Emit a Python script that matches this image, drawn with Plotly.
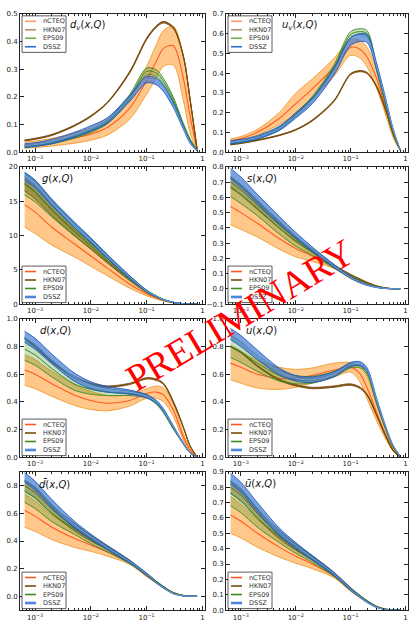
import plotly.graph_objects as go

# ---------------- data ----------------
X = [0.00065, 0.001, 0.002, 0.005, 0.01, 0.02, 0.05, 0.1, 0.15, 0.2, 0.3, 0.45, 0.6, 0.8]

MODELS = ["nCTEQ", "HKN07", "EPS09", "DSSZ"]

# d_v(x,Q)
DV_NCTEQ = [0.025, 0.028, 0.036, 0.05, 0.065, 0.09, 0.16, 0.26, 0.33, 0.375, 0.385, 0.27, 0.13, 0.008]
DV_NCTEQ_ERR = [0.011, 0.012, 0.014, 0.018, 0.022, 0.028, 0.04, 0.05, 0.06, 0.065, 0.07, 0.08, 0.06, 0.004]
DV_HKN07 = [0.042, 0.048, 0.062, 0.095, 0.13, 0.18, 0.29, 0.41, 0.455, 0.47, 0.45, 0.35, 0.19, 0.01]
DV_HKN07_ERR = [0.002, 0.002, 0.002, 0.002, 0.002, 0.002, 0.003, 0.003, 0.003, 0.003, 0.003, 0.003, 0.002, 0.001]
DV_EPS09 = [0.021, 0.024, 0.034, 0.055, 0.077, 0.11, 0.2, 0.292, 0.285, 0.255, 0.19, 0.1, 0.045, 0.005]
DV_EPS09_ERR = [0.003, 0.003, 0.004, 0.005, 0.006, 0.007, 0.009, 0.012, 0.012, 0.011, 0.009, 0.006, 0.003, 0.001]
DV_DSSZ = [0.023, 0.027, 0.038, 0.062, 0.085, 0.115, 0.195, 0.262, 0.255, 0.23, 0.17, 0.09, 0.035, 0.004]
DV_DSSZ_ERR = [0.007, 0.007, 0.008, 0.009, 0.01, 0.01, 0.011, 0.012, 0.012, 0.011, 0.009, 0.006, 0.004, 0.001]

# u_v(x,Q)
UV_NCTEQ = [0.057, 0.068, 0.1, 0.17, 0.245, 0.32, 0.43, 0.53, 0.52, 0.48, 0.37, 0.21, 0.085, 0.01]
UV_NCTEQ_ERR = [0.01, 0.011, 0.015, 0.03, 0.053, 0.05, 0.045, 0.04, 0.045, 0.05, 0.05, 0.035, 0.015, 0.002]
UV_HKN07 = [0.038, 0.045, 0.06, 0.085, 0.113, 0.16, 0.26, 0.395, 0.41, 0.4, 0.33, 0.2, 0.09, 0.01]
UV_HKN07_ERR = [0.002, 0.002, 0.002, 0.002, 0.002, 0.003, 0.003, 0.003, 0.003, 0.003, 0.003, 0.003, 0.002, 0.001]
UV_EPS09 = [0.045, 0.052, 0.072, 0.12, 0.19, 0.27, 0.43, 0.595, 0.61, 0.6, 0.42, 0.23, 0.1, 0.01]
UV_EPS09_ERR = [0.004, 0.004, 0.005, 0.007, 0.009, 0.011, 0.013, 0.015, 0.015, 0.015, 0.012, 0.008, 0.004, 0.001]
UV_DSSZ = [0.05, 0.056, 0.074, 0.12, 0.185, 0.26, 0.41, 0.56, 0.58, 0.575, 0.43, 0.245, 0.11, 0.012]
UV_DSSZ_ERR = [0.008, 0.008, 0.009, 0.011, 0.013, 0.015, 0.018, 0.02, 0.02, 0.02, 0.016, 0.01, 0.005, 0.001]

# g(x,Q)
G_NCTEQ = [14.5, 13.4, 11.2, 8.8, 7.0, 5.2, 2.9, 1.5, 0.9, 0.55, 0.22, 0.05, 0.01, 0.0]
G_NCTEQ_ERR = [3.3, 3.1, 2.6, 1.9, 1.5, 1.1, 0.6, 0.3, 0.18, 0.1, 0.05, 0.02, 0.005, 0.0]
G_HKN07 = [17.5, 16.3, 13.7, 10.6, 8.5, 6.3, 3.6, 1.8, 1.05, 0.6, 0.22, 0.04, 0.01, 0.0]
G_HKN07_ERR = [1.0, 0.95, 0.8, 0.6, 0.5, 0.35, 0.2, 0.1, 0.06, 0.04, 0.02, 0.01, 0.0, 0.0]
G_EPS09 = [17.5, 16.4, 13.9, 10.9, 8.8, 6.6, 3.8, 1.9, 1.1, 0.65, 0.25, 0.05, 0.01, 0.0]
G_EPS09_ERR = [1.6, 1.5, 1.2, 0.9, 0.7, 0.5, 0.3, 0.15, 0.1, 0.06, 0.03, 0.01, 0.0, 0.0]
G_DSSZ = [18.6, 17.5, 14.8, 11.6, 9.3, 6.9, 3.9, 1.9, 1.1, 0.65, 0.25, 0.05, 0.01, 0.0]
G_DSSZ_ERR = [0.6, 0.6, 0.5, 0.4, 0.35, 0.3, 0.2, 0.1, 0.06, 0.04, 0.02, 0.01, 0.0, 0.0]

# s(x,Q)
S_NCTEQ = [0.54, 0.5, 0.43, 0.33, 0.265, 0.215, 0.145, 0.075, 0.045, 0.028, 0.012, 0.003, 0.001, 0.0]
S_NCTEQ_ERR = [0.12, 0.11, 0.09, 0.07, 0.055, 0.035, 0.012, 0.008, 0.006, 0.004, 0.002, 0.001, 0.0, 0.0]
S_HKN07 = [0.7, 0.65, 0.55, 0.42, 0.33, 0.25, 0.15, 0.09, 0.06, 0.04, 0.018, 0.005, 0.001, 0.0]
S_HKN07_ERR = [0.035, 0.033, 0.028, 0.022, 0.017, 0.012, 0.008, 0.006, 0.005, 0.004, 0.002, 0.001, 0.0, 0.0]
S_EPS09 = [0.67, 0.62, 0.53, 0.4, 0.31, 0.24, 0.145, 0.08, 0.048, 0.03, 0.012, 0.003, 0.001, 0.0]
S_EPS09_ERR = [0.065, 0.06, 0.05, 0.04, 0.03, 0.02, 0.01, 0.006, 0.004, 0.003, 0.002, 0.001, 0.0, 0.0]
S_DSSZ = [0.755, 0.7, 0.59, 0.45, 0.35, 0.26, 0.15, 0.075, 0.042, 0.025, 0.01, 0.002, 0.0005, 0.0]
S_DSSZ_ERR = [0.035, 0.033, 0.03, 0.025, 0.02, 0.015, 0.01, 0.006, 0.004, 0.003, 0.002, 0.001, 0.0, 0.0]

# d(x,Q)
D_NCTEQ = [0.63, 0.6, 0.53, 0.45, 0.41, 0.39, 0.41, 0.46, 0.47, 0.45, 0.34, 0.15, 0.05, 0.0]
D_NCTEQ_ERR = [0.11, 0.105, 0.09, 0.075, 0.065, 0.055, 0.04, 0.035, 0.045, 0.05, 0.045, 0.025, 0.01, 0.0]
D_HKN07 = [0.86, 0.8, 0.69, 0.58, 0.53, 0.51, 0.53, 0.57, 0.56, 0.53, 0.4, 0.22, 0.08, 0.0]
D_HKN07_ERR = [0.005, 0.005, 0.005, 0.005, 0.005, 0.005, 0.005, 0.005, 0.005, 0.005, 0.005, 0.004, 0.002, 0.0]
D_EPS09 = [0.78, 0.74, 0.64, 0.53, 0.49, 0.47, 0.46, 0.44, 0.39, 0.33, 0.21, 0.1, 0.03, 0.0]
D_EPS09_ERR = [0.08, 0.075, 0.06, 0.045, 0.035, 0.025, 0.015, 0.012, 0.01, 0.01, 0.008, 0.004, 0.001, 0.0]
D_DSSZ = [0.87, 0.82, 0.71, 0.58, 0.52, 0.49, 0.47, 0.44, 0.4, 0.34, 0.22, 0.1, 0.03, 0.0]
D_DSSZ_ERR = [0.04, 0.04, 0.035, 0.03, 0.025, 0.02, 0.015, 0.012, 0.01, 0.01, 0.008, 0.004, 0.001, 0.0]

# u(x,Q)
U_NCTEQ = [0.68, 0.65, 0.6, 0.57, 0.57, 0.59, 0.63, 0.65, 0.6, 0.5, 0.32, 0.15, 0.05, 0.0]
U_NCTEQ_ERR = [0.12, 0.115, 0.1, 0.08, 0.065, 0.055, 0.05, 0.035, 0.06, 0.08, 0.06, 0.03, 0.01, 0.0]
U_HKN07 = [0.8, 0.76, 0.66, 0.56, 0.52, 0.5, 0.51, 0.525, 0.5, 0.45, 0.3, 0.14, 0.045, 0.0]
U_HKN07_ERR = [0.005, 0.005, 0.005, 0.005, 0.005, 0.005, 0.005, 0.005, 0.005, 0.005, 0.005, 0.004, 0.002, 0.0]
U_EPS09 = [0.8, 0.76, 0.68, 0.59, 0.56, 0.56, 0.6, 0.66, 0.66, 0.61, 0.39, 0.19, 0.07, 0.005]
U_EPS09_ERR = [0.08, 0.075, 0.06, 0.04, 0.03, 0.025, 0.02, 0.015, 0.015, 0.015, 0.012, 0.008, 0.003, 0.0]
U_DSSZ = [0.89, 0.84, 0.74, 0.62, 0.57, 0.56, 0.6, 0.67, 0.675, 0.63, 0.41, 0.2, 0.08, 0.008]
U_DSSZ_ERR = [0.04, 0.04, 0.035, 0.025, 0.02, 0.02, 0.018, 0.015, 0.015, 0.015, 0.012, 0.008, 0.003, 0.0]

# dbar(x,Q)
DB_NCTEQ = [0.62, 0.58, 0.5, 0.42, 0.37, 0.32, 0.24, 0.15, 0.1, 0.065, 0.025, 0.005, 0.001, 0.0]
DB_NCTEQ_ERR = [0.12, 0.11, 0.09, 0.065, 0.045, 0.03, 0.01, 0.008, 0.006, 0.005, 0.003, 0.001, 0.0, 0.0]
DB_HKN07 = [0.8, 0.75, 0.63, 0.5, 0.42, 0.35, 0.25, 0.155, 0.1, 0.065, 0.025, 0.006, 0.001, 0.0]
DB_HKN07_ERR = [0.04, 0.038, 0.032, 0.025, 0.02, 0.015, 0.01, 0.007, 0.005, 0.004, 0.002, 0.001, 0.0, 0.0]
DB_EPS09 = [0.76, 0.71, 0.6, 0.49, 0.41, 0.34, 0.245, 0.16, 0.105, 0.068, 0.025, 0.005, 0.001, 0.0]
DB_EPS09_ERR = [0.08, 0.075, 0.06, 0.04, 0.03, 0.02, 0.01, 0.007, 0.005, 0.004, 0.002, 0.001, 0.0, 0.0]
DB_DSSZ = [0.86, 0.8, 0.67, 0.52, 0.43, 0.35, 0.25, 0.16, 0.1, 0.062, 0.02, 0.003, 0.0, 0.0]
DB_DSSZ_ERR = [0.035, 0.033, 0.03, 0.025, 0.02, 0.015, 0.01, 0.007, 0.005, 0.004, 0.002, 0.001, 0.0, 0.0]

# ubar(x,Q)
UB_NCTEQ = [0.62, 0.58, 0.5, 0.41, 0.35, 0.3, 0.22, 0.13, 0.085, 0.055, 0.022, 0.004, 0.001, 0.0]
UB_NCTEQ_ERR = [0.12, 0.11, 0.09, 0.065, 0.045, 0.03, 0.01, 0.008, 0.006, 0.005, 0.003, 0.001, 0.0, 0.0]
UB_HKN07 = [0.8, 0.75, 0.63, 0.49, 0.41, 0.34, 0.235, 0.14, 0.09, 0.058, 0.022, 0.005, 0.001, 0.0]
UB_HKN07_ERR = [0.04, 0.038, 0.032, 0.025, 0.02, 0.015, 0.01, 0.007, 0.005, 0.004, 0.002, 0.001, 0.0, 0.0]
UB_EPS09 = [0.76, 0.71, 0.6, 0.48, 0.4, 0.33, 0.23, 0.135, 0.088, 0.057, 0.022, 0.004, 0.001, 0.0]
UB_EPS09_ERR = [0.08, 0.075, 0.06, 0.04, 0.03, 0.02, 0.01, 0.007, 0.005, 0.004, 0.002, 0.001, 0.0, 0.0]
UB_DSSZ = [0.855, 0.8, 0.67, 0.51, 0.42, 0.34, 0.235, 0.135, 0.085, 0.053, 0.018, 0.003, 0.0, 0.0]
UB_DSSZ_ERR = [0.035, 0.033, 0.03, 0.025, 0.02, 0.015, 0.01, 0.007, 0.005, 0.004, 0.002, 0.001, 0.0, 0.0]

PANEL_TITLES = [
    "<i>d</i><sub><i>v</i></sub>(<i>x</i>,<i>Q</i>)",
    "<i>u</i><sub><i>v</i></sub>(<i>x</i>,<i>Q</i>)",
    "<i>g</i>(<i>x</i>,<i>Q</i>)",
    "<i>s</i>(<i>x</i>,<i>Q</i>)",
    "<i>d</i>(<i>x</i>,<i>Q</i>)",
    "<i>u</i>(<i>x</i>,<i>Q</i>)",
    "<i>d\u0304</i>(<i>x</i>,<i>Q</i>)",
    "<i>\u016b</i>(<i>x</i>,<i>Q</i>)",
]
X_TICKVALS = [1e-3, 1e-2, 1e-1, 1]
X_TICKTEXT = ["10<sup>\u22123</sup>", "10<sup>\u22122</sup>", "10<sup>\u22121</sup>", "1"]

# ---------------- style / layout ----------------
PANEL_DATA = [
    [(DV_NCTEQ, DV_NCTEQ_ERR), (DV_HKN07, DV_HKN07_ERR), (DV_EPS09, DV_EPS09_ERR), (DV_DSSZ, DV_DSSZ_ERR)],
    [(UV_NCTEQ, UV_NCTEQ_ERR), (UV_HKN07, UV_HKN07_ERR), (UV_EPS09, UV_EPS09_ERR), (UV_DSSZ, UV_DSSZ_ERR)],
    [(G_NCTEQ, G_NCTEQ_ERR), (G_HKN07, G_HKN07_ERR), (G_EPS09, G_EPS09_ERR), (G_DSSZ, G_DSSZ_ERR)],
    [(S_NCTEQ, S_NCTEQ_ERR), (S_HKN07, S_HKN07_ERR), (S_EPS09, S_EPS09_ERR), (S_DSSZ, S_DSSZ_ERR)],
    [(D_NCTEQ, D_NCTEQ_ERR), (D_HKN07, D_HKN07_ERR), (D_EPS09, D_EPS09_ERR), (D_DSSZ, D_DSSZ_ERR)],
    [(U_NCTEQ, U_NCTEQ_ERR), (U_HKN07, U_HKN07_ERR), (U_EPS09, U_EPS09_ERR), (U_DSSZ, U_DSSZ_ERR)],
    [(DB_NCTEQ, DB_NCTEQ_ERR), (DB_HKN07, DB_HKN07_ERR), (DB_EPS09, DB_EPS09_ERR), (DB_DSSZ, DB_DSSZ_ERR)],
    [(UB_NCTEQ, UB_NCTEQ_ERR), (UB_HKN07, UB_HKN07_ERR), (UB_EPS09, UB_EPS09_ERR), (UB_DSSZ, UB_DSSZ_ERR)],
]
Y_RANGES = [[0, 0.5], [0, 0.7], [0, 20], [-0.1, 0.8], [0, 1.0], [0, 1.0], [-0.1, 0.9], [0, 0.9]]
Y_TICKS = [
    [0.0, 0.1, 0.2, 0.3, 0.4, 0.5],
    [0.0, 0.1, 0.2, 0.3, 0.4, 0.5, 0.6, 0.7],
    [0, 5, 10, 15, 20],
    [-0.1, 0.0, 0.1, 0.2, 0.3, 0.4, 0.5, 0.6, 0.7, 0.8],
    [0.0, 0.2, 0.4, 0.6, 0.8, 1.0],
    [0.0, 0.2, 0.4, 0.6, 0.8, 1.0],
    [0.0, 0.2, 0.4, 0.6, 0.8],
    [0.0, 0.1, 0.2, 0.3, 0.4, 0.5, 0.6, 0.7, 0.8, 0.9],
]
Y_FMT = [".1f", ".1f", "d", ".1f", ".1f", ".1f", ".1f", ".1f"]
LEGEND_TOP = [True, True, False, False, False, False, False, False]
TITLE_PX = [(48, 12), (54, 12), (20, 12), (19, 12), (18, 12), (18, 12), (17, 12), (17, 12)]

STYLE = {
    "nCTEQ": dict(edge="#F29A2C", fill="rgba(255,176,88,0.70)", center="#FF5A1E", cw=1.1),
    "HKN07": dict(edge="#7A4A0C", fill="rgba(125,80,15,0.45)", center="#7A4A0C", cw=1.0),
    "EPS09": dict(edge="#3C8A20", fill="rgba(70,150,40,0.30)", center="#3C8A20", cw=1.0),
    "DSSZ": dict(edge="#1F5CC0", fill="rgba(45,105,205,0.62)", center="#6E9EE2", cw=1.0),
}
LEG_COLORS_DARK = {"nCTEQ": ("#FF5A1E", 1.6), "HKN07": ("#7A4A0C", 1.6),
                   "EPS09": ("#3C8A20", 1.6), "DSSZ": ("#4A86DA", 2.6)}
LEG_COLORS_PALE = {"nCTEQ": ("#FF9A6E", 1.6), "HKN07": ("#B09070", 1.6),
                   "EPS09": ("#6FB04A", 1.6), "DSSZ": ("#2E6CD0", 1.6)}

W_TOT, H_TOT = 409, 622
COLS_PX = [(20, 205), (226, 408)]
ROWS_PX = [(10, 150), (165, 304), (319, 459), (474, 614)]

MINOR = [k * 10.0 ** e for e in (-4, -3, -2, -1) for k in range(2, 10)]
MINOR = [v for v in MINOR if 5e-4 < v < 1.1]

FONT = "DejaVu Sans"
AXC = "#222222"

fig = go.Figure()
layout = dict(width=W_TOT, height=H_TOT, margin=dict(l=0, r=0, t=0, b=0),
              paper_bgcolor="white", plot_bgcolor="white", showlegend=False)
shapes, annotations = [], []

for i in range(8):
    row, col = i // 2, i % 2
    n = "" if i == 0 else str(i + 1)
    xa, ya = "x" + n, "y" + n
    x0, x1 = COLS_PX[col]
    y0, y1 = ROWS_PX[row]
    W, H = x1 - x0, y1 - y0

    for name, (cen, err) in zip(MODELS, PANEL_DATA[i]):
        st = STYLE[name]
        lo = [c - e for c, e in zip(cen, err)]
        hi = [c + e for c, e in zip(cen, err)]
        common = dict(x=X, xaxis=xa, yaxis=ya, mode="lines", hoverinfo="skip", showlegend=False)
        fig.add_trace(go.Scatter(y=lo, line=dict(color=st["edge"], width=0.9, shape="spline", smoothing=0.9), **common))
        fig.add_trace(go.Scatter(y=hi, fill="tonexty", fillcolor=st["fill"],
                                 line=dict(color=st["edge"], width=0.9, shape="spline", smoothing=0.9), **common))
        fig.add_trace(go.Scatter(y=cen, line=dict(color=st["center"], width=st["cw"], shape="spline", smoothing=0.9), **common))

    layout["xaxis" + n] = dict(
        domain=[x0 / W_TOT, x1 / W_TOT], anchor=ya, type="log", range=[-3.27, 0.045],
        tickmode="array", tickvals=X_TICKVALS, ticktext=X_TICKTEXT,
        ticks="inside", ticklen=4, tickcolor=AXC, mirror="allticks", showline=True,
        linecolor=AXC, linewidth=1, showgrid=False, zeroline=False,
        tickfont=dict(family=FONT, size=7, color=AXC),
        minor=dict(tickvals=MINOR, ticks="inside", ticklen=2, tickcolor=AXC, showgrid=False),
    )
    layout["yaxis" + n] = dict(
        domain=[1 - y1 / H_TOT, 1 - y0 / H_TOT], anchor=xa, range=Y_RANGES[i],
        tickmode="array", tickvals=Y_TICKS[i], tickformat=Y_FMT[i],
        ticks="inside", ticklen=4, tickcolor=AXC, mirror="allticks", showline=True,
        linecolor=AXC, linewidth=1, showgrid=False, zeroline=False,
        tickfont=dict(family=FONT, size=7, color=AXC),
    )

    xr, yr = xa + " domain", ya + " domain"
    # panel label
    tx, ty = TITLE_PX[i]
    annotations.append(dict(xref=xr, yref=yr, x=tx / W, y=1 - ty / H, text=PANEL_TITLES[i],
                            showarrow=False, xanchor="left", yanchor="middle",
                            font=dict(family=FONT, size=10, color="#111")))
    # legend box
    bx0, bx1 = 2.0, 46.0
    if LEGEND_TOP[i]:
        by0 = 2.0
    else:
        by0 = H - 1.5 - 37.0
    by1 = by0 + 37.0
    shapes.append(dict(type="rect", xref=xr, yref=yr, x0=bx0 / W, x1=bx1 / W,
                       y0=1 - by1 / H, y1=1 - by0 / H, line=dict(color="#333", width=0.8),
                       fillcolor="white", layer="above"))
    legc = LEG_COLORS_PALE if LEGEND_TOP[i] else LEG_COLORS_DARK
    for k, name in enumerate(MODELS):
        yc = by0 + 5.5 + 8.6 * k
        c, w = legc[name]
        shapes.append(dict(type="line", xref=xr, yref=yr, x0=(bx0 + 3) / W, x1=(bx0 + 14) / W,
                           y0=1 - yc / H, y1=1 - yc / H, line=dict(color=c, width=w), layer="above"))
        annotations.append(dict(xref=xr, yref=yr, x=(bx0 + 19) / W, y=1 - yc / H, text=name,
                                showarrow=False, xanchor="left", yanchor="middle",
                                font=dict(family=FONT, size=6.5, color="#333")))

annotations.append(dict(xref="paper", yref="paper", x=240 / W_TOT, y=1 - 315 / H_TOT,
                        text="PRELIMINARY", textangle=-31, showarrow=False,
                        xanchor="center", yanchor="middle",
                        font=dict(family="Liberation Serif", size=38, color="#FF0000")))

layout["shapes"] = shapes
layout["annotations"] = annotations
fig.update_layout(**layout)
fig.write_html("out.html")
